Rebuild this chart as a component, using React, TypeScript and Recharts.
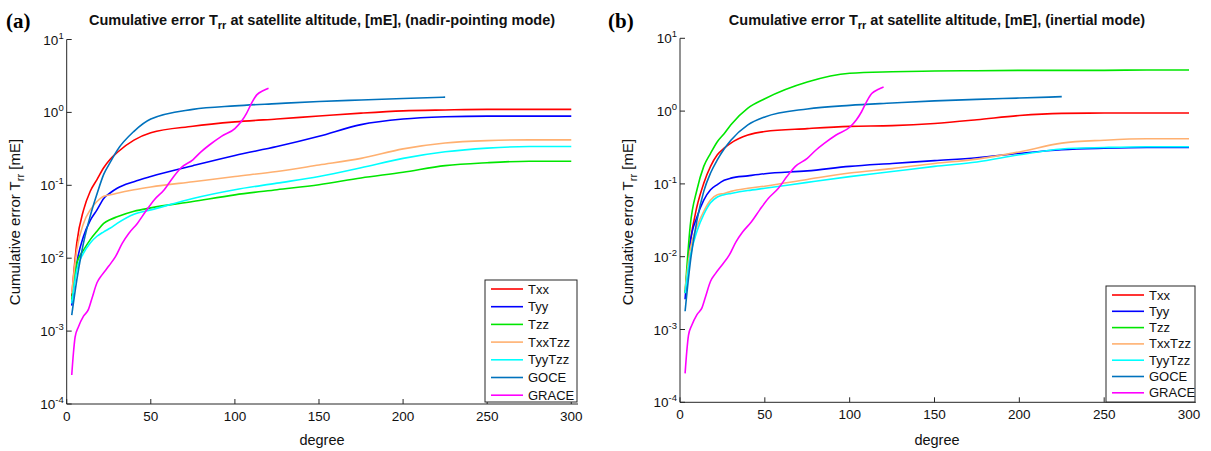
import React from 'react';
import { LineChart, Line, XAxis, YAxis } from 'recharts';

// Spherical-harmonic degree grids
const DEG = [3, 6, 10, 14, 18, 22, 26, 30, 40, 50, 75, 100, 125, 150, 175, 200, 225, 250, 275, 300];
const GOCE_DEG = [3, 6, 10, 14, 18, 22, 26, 30, 40, 50, 75, 100, 125, 150, 175, 200, 225];
const GRACE_DEG = [3, 4, 5, 7, 10, 13, 15, 18, 21, 25, 29, 33, 37, 42, 47, 52, 58, 63, 68, 75, 80, 85, 92, 100, 104, 107, 110, 113, 117, 120];

// (a) nadir-pointing mode, cumulative error [mE]
const TXX_A = [0.003, 0.0162, 0.0457, 0.083, 0.12, 0.174, 0.229, 0.282, 0.417, 0.525, 0.646, 0.741, 0.813, 0.891, 0.977, 1.05, 1.08, 1.1, 1.1, 1.1];
const TYY_A = [0.00224, 0.0085, 0.02, 0.033, 0.046, 0.066, 0.079, 0.091, 0.112, 0.132, 0.186, 0.257, 0.34, 0.47, 0.68, 0.81, 0.87, 0.89, 0.89, 0.89];
const TZZ_A = [0.0027, 0.0085, 0.0129, 0.018, 0.0234, 0.03, 0.034, 0.037, 0.044, 0.049, 0.06, 0.074, 0.087, 0.102, 0.126, 0.151, 0.186, 0.204, 0.214, 0.214];
const TXXTZZ_A = [0.0033, 0.0129, 0.03, 0.046, 0.06, 0.071, 0.074, 0.078, 0.087, 0.095, 0.112, 0.132, 0.155, 0.19, 0.234, 0.316, 0.38, 0.41, 0.42, 0.42];
const TYYTZZ_A = [0.0024, 0.0069, 0.0117, 0.0162, 0.02, 0.023, 0.026, 0.03, 0.04, 0.046, 0.066, 0.087, 0.107, 0.132, 0.174, 0.234, 0.288, 0.324, 0.34, 0.34];
const GOCE_A = [0.00166, 0.005, 0.0162, 0.038, 0.076, 0.141, 0.209, 0.302, 0.55, 0.81, 1.1, 1.23, 1.32, 1.41, 1.48, 1.55, 1.62];

// (b) inertial mode, cumulative error [mE]
const TXX_B = [0.00316, 0.0155, 0.049, 0.102, 0.174, 0.251, 0.309, 0.363, 0.468, 0.525, 0.575, 0.617, 0.631, 0.676, 0.76, 0.87, 0.93, 0.94, 0.94, 0.94];
const TYY_B = [0.0026, 0.0155, 0.035, 0.06, 0.083, 0.098, 0.112, 0.12, 0.129, 0.138, 0.151, 0.174, 0.191, 0.209, 0.229, 0.263, 0.295, 0.309, 0.316, 0.316];
const TZZ_B = [0.00316, 0.0263, 0.083, 0.174, 0.263, 0.38, 0.49, 0.65, 1.1, 1.48, 2.51, 3.31, 3.47, 3.55, 3.59, 3.63, 3.63, 3.63, 3.67, 3.67];
const TXXTZZ_B = [0.0035, 0.0126, 0.026, 0.042, 0.06, 0.071, 0.074, 0.079, 0.087, 0.093, 0.115, 0.141, 0.162, 0.191, 0.219, 0.275, 0.363, 0.398, 0.417, 0.417];
const TYYTZZ_B = [0.00316, 0.01, 0.0224, 0.038, 0.055, 0.066, 0.071, 0.074, 0.081, 0.087, 0.105, 0.126, 0.148, 0.174, 0.2, 0.251, 0.302, 0.316, 0.324, 0.324];
const GOCE_B = [0.00178, 0.0081, 0.0316, 0.079, 0.141, 0.214, 0.302, 0.398, 0.646, 0.832, 1.07, 1.2, 1.29, 1.38, 1.45, 1.51, 1.58];

// GRACE reference curve (same in both panels)
const GRACE = [0.00025, 0.0005, 0.00083, 0.00115, 0.0016, 0.002, 0.0028, 0.0046, 0.0059, 0.0078, 0.0105, 0.016, 0.022, 0.03, 0.044, 0.063, 0.087, 0.126, 0.174, 0.224, 0.29, 0.36, 0.47, 0.6, 0.76, 0.98, 1.35, 1.74, 2.0, 2.14];

const X_TICKS = [0, 50, 100, 150, 200, 250, 300];
const Y_TICKS = [1e-4, 1e-3, 1e-2, 1e-1, 1, 10];
const SERIES_NAMES = ['Txx', 'Tyy', 'Tzz', 'TxxTzz', 'TyyTzz', 'GOCE', 'GRACE'];
const COLORS = ['#ff0000', '#0000ff', '#00e600', '#ffb070', '#00ffff', '#0072bd', '#ff00ff'];

const FONT = '"Liberation Sans", Arial, Helvetica, sans-serif';
const AX = '#262626';

const toPoints = (deg: number[], val: number[]) => deg.map((d, i) => ({ deg: d, v: val[i] }));

const PowTick = (props: any) => {
  const { x, y, payload } = props;
  const e = Math.round(Math.log10(payload.value));
  return (
    <text x={x} y={y} dy={5} textAnchor="end" fontSize={13.5} fill="#111" fontFamily={FONT}>
      10<tspan dy={-6} fontSize={9.5}>{e}</tspan>
    </text>
  );
};

type Panel = {
  left: number;
  margin: { top: number; right: number; bottom: number; left: number };
  series: { deg: number[]; val: number[] }[];
};

const PANEL_A: Panel = {
  left: 0,
  margin: { top: 39.5, right: 22, bottom: 17, left: 6.7 },
  series: [
    { deg: DEG, val: TXX_A },
    { deg: DEG, val: TYY_A },
    { deg: DEG, val: TZZ_A },
    { deg: DEG, val: TXXTZZ_A },
    { deg: DEG, val: TYYTZZ_A },
    { deg: GOCE_DEG, val: GOCE_A },
    { deg: GRACE_DEG, val: GRACE },
  ],
};

const PANEL_B: Panel = {
  left: 611,
  margin: { top: 38.3, right: 15.2, bottom: 18.7, left: 9 },
  series: [
    { deg: DEG, val: TXX_B },
    { deg: DEG, val: TYY_B },
    { deg: DEG, val: TZZ_B },
    { deg: DEG, val: TXXTZZ_B },
    { deg: DEG, val: TYYTZZ_B },
    { deg: GOCE_DEG, val: GOCE_B },
    { deg: GRACE_DEG, val: GRACE },
  ],
};

function ErrorChart({ panel }: { panel: Panel }) {
  return (
    <div style={{ position: 'absolute', left: panel.left, top: 0 }}>
      <LineChart width={600} height={451} margin={panel.margin}>
        <XAxis
          dataKey="deg"
          type="number"
          domain={[0, 304]}
          ticks={X_TICKS}
          allowDataOverflow
          height={30}
          tickSize={-5}
          tickMargin={12}
          stroke={AX}
          tick={{ fontSize: 13.5, fill: '#111', fontFamily: FONT }}
        />
        <XAxis
          xAxisId="top"
          orientation="top"
          dataKey="deg"
          type="number"
          domain={[0, 304]}
          ticks={X_TICKS}
          allowDataOverflow
          height={0}
          tickSize={-5}
          tick={false}
          stroke={AX}
        />
        <YAxis
          type="number"
          scale="log"
          domain={[1e-4, 10]}
          ticks={Y_TICKS}
          allowDataOverflow
          width={60}
          tickSize={-5}
          tickMargin={8}
          stroke={AX}
          tick={<PowTick />}
        />
        <YAxis
          yAxisId="r"
          orientation="right"
          type="number"
          scale="log"
          domain={[1e-4, 10]}
          ticks={Y_TICKS}
          allowDataOverflow
          width={0}
          tickSize={-5}
          tick={false}
          stroke={AX}
        />
        {panel.series.map((s, i) => (
          <Line
            key={SERIES_NAMES[i]}
            name={SERIES_NAMES[i]}
            data={toPoints(s.deg, s.val)}
            dataKey="v"
            type="monotone"
            stroke={COLORS[i]}
            strokeWidth={1.6}
            dot={false}
            isAnimationActive={false}
          />
        ))}
      </LineChart>
    </div>
  );
}

function Legend({ x, y, w, h, step, first }: { x: number; y: number; w: number; h: number; step: number; first: number }) {
  return (
    <g>
      <rect x={x} y={y} width={w} height={h} fill="#fff" stroke={AX} strokeWidth={1} />
      {SERIES_NAMES.map((n, i) => {
        const cy = y + first + i * step;
        return (
          <g key={n}>
            <line x1={x + 6} x2={x + 38} y1={cy} y2={cy} stroke={COLORS[i]} strokeWidth={1.6} />
            <text x={x + 43} y={cy + 4.5} fontSize={13} fill="#111" fontFamily={FONT}>{n}</text>
          </g>
        );
      })}
    </g>
  );
}

function Title({ x, mode }: { x: number; mode: string }) {
  return (
    <text x={x} y={25} textAnchor="middle" fontSize={14.5} fontWeight="bold" fill="#111" fontFamily={FONT}>
      Cumulative error T<tspan dy={4} fontSize={11}>rr</tspan>
      <tspan dy={-4}>{` at satellite altitude, [mE], (${mode})`}</tspan>
    </text>
  );
}

function YLabel({ x }: { x: number }) {
  return (
    <text x={x} y={222} transform={`rotate(-90 ${x} 222)`} textAnchor="middle" fontSize={15} fill="#111" fontFamily={FONT}>
      Cumulative error T<tspan dy={4} fontSize={11}>rr</tspan>
      <tspan dy={-4}> [mE]</tspan>
    </text>
  );
}

export default function App() {
  return (
    <div style={{ position: 'absolute', left: 0, top: 0, width: 1211, height: 451, background: '#fff', overflow: 'hidden' }}>
      <ErrorChart panel={PANEL_A} />
      <ErrorChart panel={PANEL_B} />
      <svg width={1211} height={451} style={{ position: 'absolute', left: 0, top: 0, pointerEvents: 'none' }}>
        <text x={6} y={28} fontSize={21} fontWeight="bold" fontFamily='"Liberation Serif", "Times New Roman", serif' fill="#000">(a)</text>
        <text x={608} y={28} fontSize={21} fontWeight="bold" fontFamily='"Liberation Serif", "Times New Roman", serif' fill="#000">(b)</text>
        <Title x={322} mode="nadir-pointing mode" />
        <Title x={937} mode="inertial mode" />
        <YLabel x={20} />
        <YLabel x={633} />
        <text x={322} y={445} textAnchor="middle" fontSize={14.5} fill="#111" fontFamily={FONT}>degree</text>
        <text x={937} y={445} textAnchor="middle" fontSize={14.5} fill="#111" fontFamily={FONT}>degree</text>
        <Legend x={485} y={280} w={92} h={122} step={17.7} first={9} />
        <Legend x={1106} y={286} w={89} h={116} step={16.3} first={9} />
      </svg>
    </div>
  );
}
